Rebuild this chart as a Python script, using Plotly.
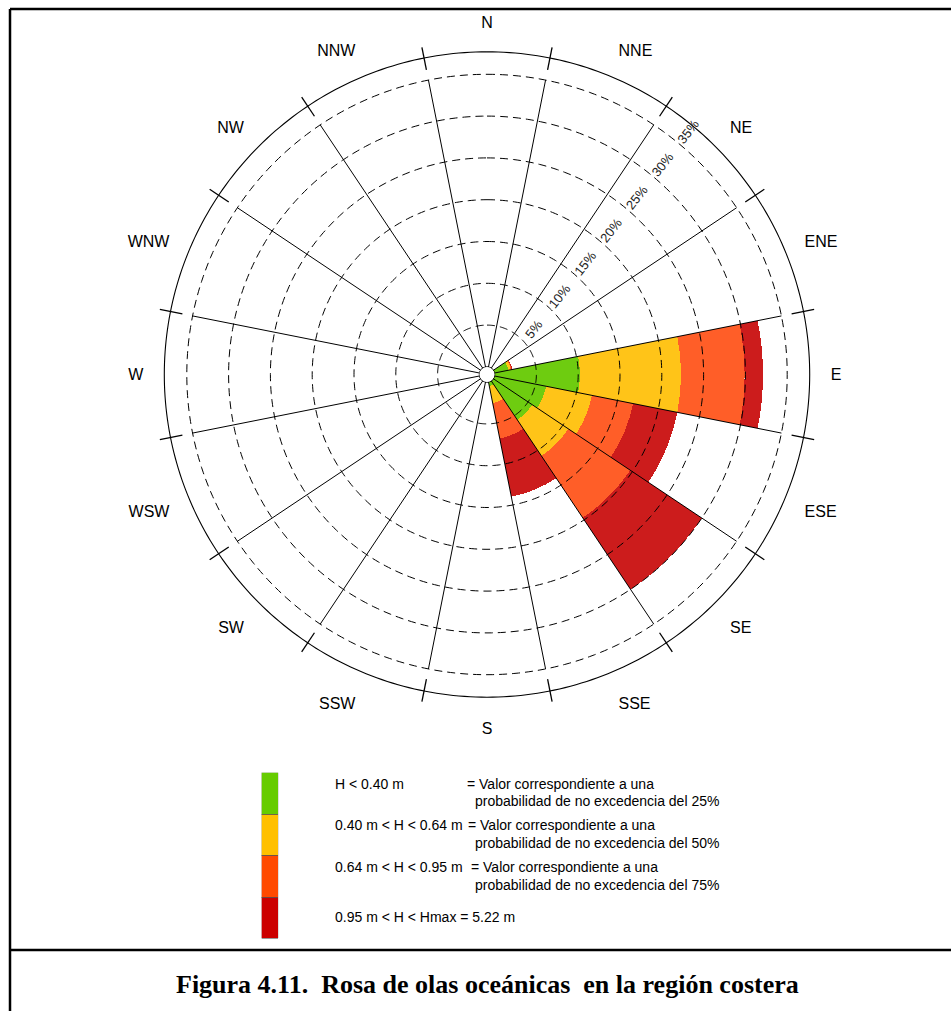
import plotly.graph_objects as go

# ---------------- data ----------------
directions = ["N", "NNE", "NE", "ENE", "E", "ESE", "SE", "SSE",
              "S", "SSW", "SW", "WSW", "W", "WNW", "NW", "NNW"]
# frequency of occurrence (%) per direction and wave-height class
freq_green  = [0, 0, 0, 1.7, 10.2, 6.3, 5.6, 0.5, 0, 0, 0, 0, 0, 0, 0, 0]
freq_yellow = [0, 0, 0, 0.3, 12.1, 5.6, 5.2, 2.1, 0, 0, 0, 0, 0, 0, 0, 0]
freq_orange = [0, 0, 0, 0.1, 7.6, 5.0, 8.9, 4.3, 0, 0, 0, 0, 0, 0, 0, 0]
freq_red    = [0, 0, 0, 0.1, 2.2, 5.4, 10.3, 7.1, 0, 0, 0, 0, 0, 0, 0, 0]

radial_ticks = [5, 10, 15, 20, 25, 30, 35]
radial_ticktext = ["5%", "10%", "15%", "20%", "25%", "30%", "35%"]

class_ranges = ["H < 0.40 m", "0.40 m < H < 0.64 m", "0.64 m < H < 0.95 m",
                "0.95 m < H < Hmax = 5.22 m"]
class_notes = ["= Valor correspondiente a una", "= Valor correspondiente a una",
               "= Valor correspondiente a una", ""]
class_notes2 = ["probabilidad de no excedencia del 25%",
                "probabilidad de no excedencia del 50%",
                "probabilidad de no excedencia del 75%", ""]
caption = "Figura 4.11.\u00a0 Rosa de olas oceánicas\u00a0 en la región costera"

# ---------------- styling ----------------
W, H = 951, 1011
FONT = "Liberation Sans, Arial, sans-serif"
wedge_colors = ["#6ECC10", "#FFC418", "#FF5E28", "#CC1C1C"]
legend_colors = ["#66CC00", "#FFC000", "#FF4A00", "#CC0000"]

sector = 360 / len(directions)
theta_c = [i * sector for i in range(len(directions))]
theta_b = [a + sector / 2 for a in theta_c]

# polar geometry (pixels)
cx, cy = 487, 374.5
hole_px = 7.6
px_per_pct = 8.36
R_rim = 322.7                      # outer solid circle
R_box = 336.0                      # polar drawing radius (rim ticks fit inside)
r_rim = (R_rim - hole_px) / px_per_pct
r_box = (R_box - hole_px) / px_per_pct


def pxx(x):
    return x / W


def pxy(y):
    return 1 - y / H


fig = go.Figure()

series = [freq_green, freq_yellow, freq_orange, freq_red]
for vals, col, name in zip(series, wedge_colors, class_ranges):
    fig.add_trace(go.Barpolar(
        r=vals, theta=theta_c, width=[sector] * len(vals),
        marker=dict(color=col, line=dict(width=0)),
        name=name, showlegend=False))

# dashed circles
cr, ct = [], []
for t in radial_ticks:
    cr += [t] * 361 + [None]
    ct += list(range(361)) + [None]
fig.add_trace(go.Scatterpolar(r=cr, theta=ct, mode="lines",
                              line=dict(color="black", width=1, dash="8px,5px"),
                              hoverinfo="skip", showlegend=False))
# spokes
sr, st = [], []
for b in theta_b:
    sr += [0, radial_ticks[-1], None]
    st += [b, b, None]
fig.add_trace(go.Scatterpolar(r=sr, theta=st, mode="lines",
                              line=dict(color="black", width=1),
                              hoverinfo="skip", showlegend=False))
# centre circle and outer rim
for rr in (0, r_rim):
    fig.add_trace(go.Scatterpolar(r=[rr] * 361, theta=list(range(361)), mode="lines",
                                  line=dict(color="black", width=1.1),
                                  hoverinfo="skip", showlegend=False))
# tick marks crossing the rim
tr, tt = [], []
for b in theta_b:
    tr += [r_rim - 1.45, r_rim + 1.3, None]
    tt += [b, b, None]
fig.add_trace(go.Scatterpolar(r=tr, theta=tt, mode="lines",
                              line=dict(color="black", width=1.3),
                              hoverinfo="skip", showlegend=False))

# legend colour bar (cartesian)
for col, lab in zip(legend_colors[::-1], class_ranges[::-1]):
    fig.add_trace(go.Bar(x=[0], y=[1], marker=dict(color=col, line=dict(color="#555", width=0.6)),
                         width=1, name=lab, showlegend=False, hoverinfo="skip",
                         xaxis="x", yaxis="y"))

fig.update_layout(
    width=W, height=H,
    margin=dict(l=0, r=0, t=0, b=0),
    paper_bgcolor="white", plot_bgcolor="white",
    showlegend=False,
    barmode="stack", bargap=0,
    polar=dict(
        domain=dict(x=[pxx(cx - R_box), pxx(cx + R_box)], y=[pxy(cy + R_box), pxy(cy - R_box)]),
        hole=hole_px / R_box,
        bgcolor="rgba(0,0,0,0)",
        barmode="stack",
        angularaxis=dict(direction="clockwise", rotation=90,
                         tickmode="array", tickvals=theta_c, ticktext=directions,
                         showline=False, showgrid=False,
                         ticks="outside", ticklen=4, tickcolor="rgba(0,0,0,0)",
                         tickfont=dict(family=FONT, size=16, color="black")),
        radialaxis=dict(range=[0, r_box], showgrid=False, showline=False, ticks="",
                        tickmode="array",
                        tickvals=[t + 1.8 for t in radial_ticks],
                        ticktext=radial_ticktext, angle=52, side="clockwise",
                        tickangle=0,
                        tickfont=dict(family=FONT, size=13, color="#222")),
    ),
    xaxis=dict(domain=[pxx(261.7), pxx(278.3)], range=[-0.5, 0.5], visible=False, fixedrange=True),
    yaxis=dict(domain=[pxy(939), pxy(772.7)], range=[0, 4], visible=False, fixedrange=True),
)

# legend texts
LFS = 14
row_y = [784, 825, 867, 917]
row2_y = [801, 843, 885, None]
eq_x = [465, 466, 469, None]
for i in range(4):
    fig.add_annotation(x=pxx(332.5), y=pxy(row_y[i]), xref="paper", yref="paper",
                       text=class_ranges[i], showarrow=False, xanchor="left", yanchor="middle",
                       font=dict(family=FONT, size=LFS, color="black"))
    if class_notes[i]:
        fig.add_annotation(x=pxx(eq_x[i]), y=pxy(row_y[i]), xref="paper", yref="paper",
                           text=class_notes[i], showarrow=False, xanchor="left", yanchor="middle",
                           font=dict(family=FONT, size=LFS, color="black"))
        fig.add_annotation(x=pxx(472.5), y=pxy(row2_y[i]), xref="paper", yref="paper",
                           text=class_notes2[i], showarrow=False, xanchor="left", yanchor="middle",
                           font=dict(family=FONT, size=LFS, color="black"))

fig.add_annotation(x=pxx(487), y=pxy(984), xref="paper", yref="paper", text="<b>" + caption + "</b>",
                   showarrow=False, xanchor="center", yanchor="middle",
                   font=dict(family="Liberation Serif, Times New Roman, serif", size=26, color="black"))

# frame lines
line = dict(color="black", width=2.5)
fig.add_shape(type="line", xref="paper", yref="paper", x0=pxx(10), x1=1, y0=pxy(9), y1=pxy(9), line=line)
fig.add_shape(type="line", xref="paper", yref="paper", x0=pxx(10), x1=pxx(10), y0=pxy(9), y1=0, line=line)
fig.add_shape(type="line", xref="paper", yref="paper", x0=pxx(10), x1=1, y0=pxy(950), y1=pxy(950), line=line)

fig.write_html("out.html", config={"displayModeBar": False},
               post_script="document.body.style.margin='0';document.body.style.overflow='hidden';")
